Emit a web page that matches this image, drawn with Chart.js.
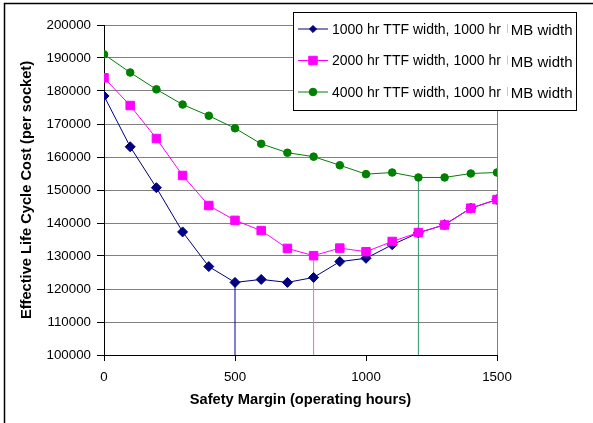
<!DOCTYPE html>
<html>
<head>
<meta charset="utf-8">
<script src="https://cdn.jsdelivr.net/npm/chart.js@4/dist/chart.umd.min.js"></script>
<style>
  html, body { margin: 0; padding: 0; background: #fff; }
  canvas { display: block; }
</style>
</head>
<body>
<canvas id="c" width="593" height="423"></canvas>
<script>
// Safety margin (operating hours) on the x axis
const margins = [0, 100, 200, 300, 400, 500, 600, 700, 800, 900, 1000, 1100, 1200, 1300, 1400, 1500];

// Effective life cycle cost per socket, one array per TTF width
const cost1000 = [178500, 163100, 150700, 137300, 126800, 122000, 122900, 122000, 123500, 128300, 129300, 133400, 137000, 139500, 144500, 147100];
const cost2000 = [184000, 175600, 165600, 154400, 145300, 140800, 137700, 132300, 130100, 132400, 131300, 134400, 137100, 139400, 144500, 147100];
const cost4000 = [191100, 185600, 180500, 175900, 172500, 168700, 164000, 161300, 160100, 157500, 154800, 155300, 153800, 153800, 155000, 155300];

const seriesLabels = [
  '1000 hr TTF width, 1000 hr MB width',
  '2000 hr TTF width, 1000 hr MB width',
  '4000 hr TTF width, 1000 hr MB width'
];

// Margin with the lowest cost for each series (marked by a drop line)
const optimumMargins = [500, 800, 1200];

const yMin = 100000, yMax = 200000, yStep = 10000;
const xMin = 0, xMax = 1500, xStep = 500;

const seriesStyle = [
  { color: '#000080', point: 'rectRot', radius: 5, guide: '#0000a0' },
  { color: '#ff00ff', point: 'rect', radius: 6, guide: '#ff55ff' },
  { color: '#008000', point: 'circle', radius: 3.8, guide: '#2f9a66' }
];
const seriesValues = [cost1000, cost2000, cost4000];
const seriesOrder = [1, 0, 2];

const datasets = [];
seriesValues.forEach((vals, i) => {
  const s = seriesStyle[i];
  datasets.push({
    label: seriesLabels[i],
    data: margins.map((m, k) => ({ x: m, y: vals[k] })),
    borderColor: s.color,
    backgroundColor: s.color,
    pointBackgroundColor: s.color,
    pointBorderColor: s.color,
    pointBorderWidth: 1,
    pointStyle: s.point,
    pointRadius: s.radius,
    pointHoverRadius: s.radius,
    borderWidth: 1,
    tension: 0,
    order: seriesOrder[i]
  });
});
// Drop lines from each series minimum down to the x axis
seriesValues.forEach((vals, i) => {
  const m = optimumMargins[i];
  const yAt = vals[margins.indexOf(m)];
  datasets.push({
    label: '',
    isGuide: true,
    data: [{ x: m, y: yMin }, { x: m, y: yAt }],
    borderColor: seriesStyle[i].guide,
    borderWidth: 1,
    pointRadius: 0,
    tension: 0,
    order: 5
  });
});

const FONT = '"Liberation Sans", Arial, sans-serif';

function marker(ctx, style, r, x, y) {
  ctx.beginPath();
  if (style === 'rect') {
    const s = Math.SQRT1_2 * r;
    ctx.rect(x - s, y - s, 2 * s, 2 * s);
  } else if (style === 'rectRot') {
    const s = Math.SQRT1_2 * r;
    ctx.moveTo(x - s, y); ctx.lineTo(x, y - s); ctx.lineTo(x + s, y); ctx.lineTo(x, y + s); ctx.closePath();
  } else {
    ctx.arc(x, y, r, 0, Math.PI * 2);
  }
  ctx.fill();
  ctx.stroke();
}

// Frame around the whole figure and the boxed legend inside the plot
const framePlugin = {
  id: 'frame',
  beforeDraw(chart) {
    const ctx = chart.ctx;
    ctx.save();
    ctx.fillStyle = '#fff';
    ctx.fillRect(0, 0, chart.width, chart.height);
    ctx.strokeStyle = '#000';
    ctx.lineWidth = 1.5;
    ctx.beginPath();
    ctx.moveTo(4.5, chart.height);
    ctx.lineTo(4.5, 3.5);
    ctx.lineTo(chart.width, 3.5);
    ctx.stroke();
    ctx.restore();
  },
  afterDraw(chart) {
    const ctx = chart.ctx;
    const bx = 293.5, by = 12.5, bw = 283, bh = 98;
    ctx.save();
    ctx.fillStyle = '#fff';
    ctx.fillRect(bx, by, bw, bh);
    ctx.strokeStyle = '#000';
    ctx.lineWidth = 1;
    ctx.strokeRect(bx, by, bw, bh);
    chart.data.datasets.filter(d => !d.isGuide).forEach((ds, i) => {
      const y = 29 + i * 31.5;
      ctx.strokeStyle = ds.borderColor;
      ctx.lineWidth = 1;
      ctx.beginPath();
      ctx.moveTo(298, y);
      ctx.lineTo(328, y);
      ctx.stroke();
      ctx.fillStyle = ds.pointBackgroundColor;
      ctx.strokeStyle = ds.pointBorderColor;
      marker(ctx, ds.pointStyle, ds.pointRadius, 313, y);

      const label = ds.label;
      const cut = label.lastIndexOf(' MB');
      const head = label.slice(0, cut);
      const tail = label.slice(cut + 1);
      ctx.fillStyle = '#000';
      ctx.textBaseline = 'middle';
      ctx.textAlign = 'left';
      ctx.font = '14px ' + FONT;
      ctx.fillText(head, 332, y + 1);
      const hw = ctx.measureText(head).width;
      ctx.fillStyle = '#c8c8c8';
      ctx.fillRect(Math.round(332 + hw + 6), y - 5, 1, 9);
      ctx.fillStyle = '#000';
      ctx.font = '15px ' + FONT;
      ctx.fillText(tail, 332 + hw + 10, y + 2);
    });
    ctx.restore();
  }
};

new Chart(document.getElementById('c'), {
  type: 'line',
  data: { datasets },
  plugins: [framePlugin],
  options: {
    responsive: false,
    animation: false,
    devicePixelRatio: 1,
    layout: { padding: { top: 25, right: 96, bottom: 0, left: 0 } },
    plugins: {
      legend: { display: false },
      tooltip: { enabled: false }
    },
    scales: {
      x: {
        type: 'linear',
        min: xMin,
        max: xMax,
        afterFit(scale) { scale.height = 68; },
        ticks: {
          stepSize: xStep,
          padding: 8,
          color: '#000',
          font: { family: FONT, size: 13.33 },
          callback: v => String(v)
        },
        grid: {
          drawOnChartArea: true,
          color: c => (c.tick && c.tick.value === xMax) ? '#808080' : 'rgba(0,0,0,0)',
          tickColor: '#000',
          tickLength: 6
        },
        border: { color: '#000', width: 1 },
        title: {
          display: true,
          text: 'Safety Margin (operating hours)',
          color: '#000',
          font: { family: FONT, size: 14.67, weight: 'bold' },
          padding: { top: 0, bottom: 14 }
        }
      },
      y: {
        type: 'linear',
        min: yMin,
        max: yMax,
        afterFit(scale) { scale.width = 104; },
        ticks: {
          stepSize: yStep,
          padding: 6,
          color: '#000',
          font: { family: FONT, size: 13.33 },
          callback: v => String(v)
        },
        grid: {
          color: '#808080',
          tickColor: '#000',
          tickLength: 7
        },
        border: { color: '#000', width: 1 },
        title: {
          display: true,
          text: 'Effective Life Cycle Cost (per socket)',
          color: '#000',
          font: { family: FONT, size: 14.67, weight: 'bold' },
          padding: { top: 18, bottom: 0 }
        }
      }
    }
  }
});
</script>
</body>
</html>
